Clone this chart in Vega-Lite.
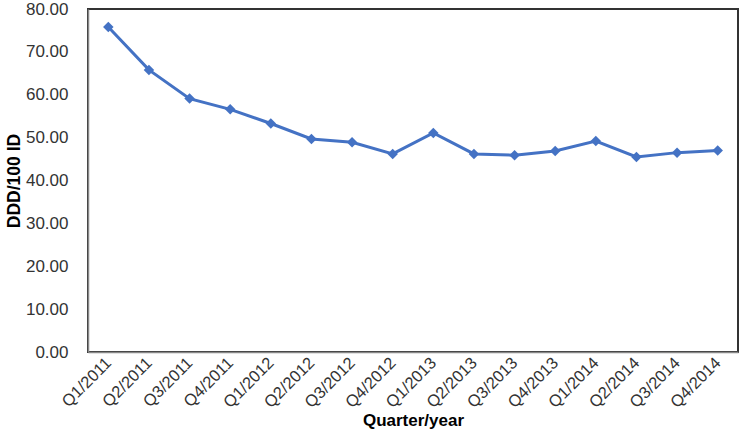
{
  "$schema": "https://vega.github.io/schema/vega-lite/v6.json",
  "width": 650,
  "height": 343,
  "autosize": {"type": "none"},
  "padding": {"left": 88, "top": 9, "right": 4, "bottom": 94},
  "background": "white",
  "config": {
    "view": {"stroke": "#333333", "strokeWidth": 2},
    "font": "Liberation Sans"
  },
  "data": {
    "values": [
      {"quarter": "Q1/2011", "value": 75.8},
      {"quarter": "Q2/2011", "value": 65.8},
      {"quarter": "Q3/2011", "value": 59.1},
      {"quarter": "Q4/2011", "value": 56.6},
      {"quarter": "Q1/2012", "value": 53.3},
      {"quarter": "Q2/2012", "value": 49.7},
      {"quarter": "Q3/2012", "value": 48.9},
      {"quarter": "Q4/2012", "value": 46.2},
      {"quarter": "Q1/2013", "value": 51.1},
      {"quarter": "Q2/2013", "value": 46.2},
      {"quarter": "Q3/2013", "value": 45.9},
      {"quarter": "Q4/2013", "value": 46.9},
      {"quarter": "Q1/2014", "value": 49.2},
      {"quarter": "Q2/2014", "value": 45.5},
      {"quarter": "Q3/2014", "value": 46.5},
      {"quarter": "Q4/2014", "value": 47.0}
    ]
  },
  "encoding": {
    "x": {
      "field": "quarter",
      "type": "ordinal",
      "sort": null,
      "scale": {"type": "point", "padding": 0.5},
      "axis": {
        "title": "Quarter/year",
        "titleFont": "Liberation Sans",
        "titleFontSize": 17,
        "titleFontWeight": "bold",
        "titleColor": "#000000",
        "titlePadding": 2,
        "labelAngle": -45,
        "labelAlign": "right",
        "labelBaseline": "middle",
        "labelFontSize": 16.5,
        "labelColor": "#333333",
        "labelPadding": 8,
        "ticks": false,
        "domainColor": "#888888",
        "domainWidth": 1.5,
        "grid": false
      }
    },
    "y": {
      "field": "value",
      "type": "quantitative",
      "scale": {"domain": [0, 80]},
      "axis": {
        "title": "DDD/100 ID",
        "titleFont": "Liberation Sans",
        "titleFontSize": 17.5,
        "titleFontWeight": "bold",
        "titleColor": "#000000",
        "titlePadding": 2,
        "values": [0, 10, 20, 30, 40, 50, 60, 70, 80],
        "format": ".2f",
        "labelFontSize": 17,
        "labelColor": "#333333",
        "labelPadding": 20,
        "ticks": false,
        "domainColor": "#888888",
        "domainWidth": 1.5,
        "grid": false
      }
    }
  },
  "layer": [
    {"mark": {"type": "line", "color": "#4472C4", "strokeWidth": 3}},
    {"mark": {"type": "point", "shape": "diamond", "filled": true, "color": "#4472C4", "opacity": 1, "size": 110}}
  ]
}
